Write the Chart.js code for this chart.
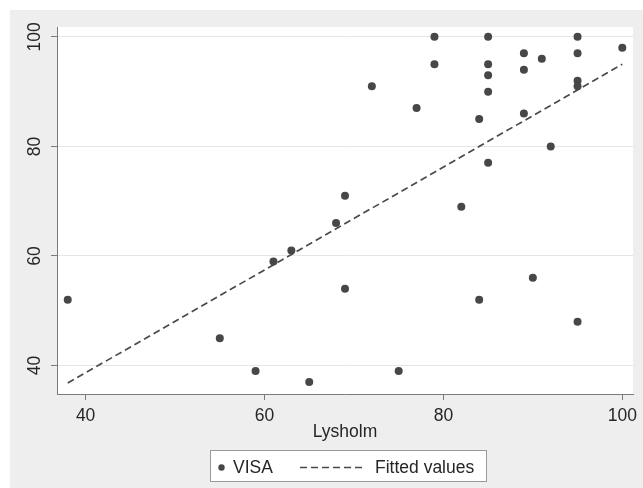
<!DOCTYPE html>
<html>
<head>
<meta charset="utf-8">
<script src="https://cdn.jsdelivr.net/npm/chart.js@4/dist/chart.umd.min.js"></script>
<style>
	html, body { margin: 0; padding: 0; background: #ffffff; }
	#wrap { position: relative; width: 643px; height: 488px; }
</style>
</head>
<body>
<div id="wrap"><canvas id="chart" width="643" height="488"></canvas></div>
<script>
// VISA vs Lysholm
var lysholm = [79, 85, 95, 100, 89, 95, 91, 79, 85, 89, 85, 95, 95, 72, 85, 77, 84, 89, 92, 85, 69, 82, 68,
	38, 61, 63, 55, 59, 65, 69, 84, 90, 95, 75];
var visa = [100, 100, 100, 98, 97, 97, 96, 95, 95, 94, 93, 92, 91, 91, 90, 87, 85, 86, 80, 77, 71, 69, 66,
	52, 59, 61, 45, 39, 37, 54, 52, 56, 48, 39];

// fitted line endpoints
var fitX = [38, 100];
var fitY = [36.8, 95.0];

var xTicks = [40, 60, 80, 100];
var yTicks = [40, 60, 80, 100];

var FONT = '"Liberation Sans", Arial, sans-serif';
var DOT = '#474747';
var INK = '#262626';

function pairs(xs, ys) {
	var out = [];
	for (var i = 0; i < xs.length; i++) {
		out.push({x: xs[i], y: ys[i]});
	}
	return out;
}

const backdrop = {
	id: 'backdrop',
	beforeDraw(chart) {
		const {ctx, chartArea: {left, top, width, height}} = chart;
		ctx.save();
		ctx.fillStyle = '#ffffff';
		ctx.fillRect(0, 0, chart.width, chart.height);
		ctx.fillStyle = '#eeeeee';
		ctx.fillRect(10, 10, chart.width - 10, chart.height - 10);
		ctx.fillStyle = '#ffffff';
		ctx.fillRect(left, top, width, height);
		ctx.restore();
	}
};

// vertical y tick labels, reading upward
const yLabels = {
	id: 'yLabels',
	afterDraw(chart) {
		const ctx = chart.ctx, scale = chart.scales.y;
		ctx.save();
		ctx.fillStyle = INK;
		ctx.font = '17.5px ' + FONT;
		ctx.textAlign = 'center';
		ctx.textBaseline = 'middle';
		yTicks.forEach(v => {
			ctx.save();
			ctx.translate(35, scale.getPixelForValue(v));
			ctx.rotate(-Math.PI / 2);
			ctx.fillText(String(v), 0, 0);
			ctx.restore();
		});
		ctx.restore();
	}
};

// boxed legend under the axis title
const boxLegend = {
	id: 'boxLegend',
	afterDraw(chart) {
		const ctx = chart.ctx, ds = chart.data.datasets;
		const cy = 467.5;
		ctx.save();
		ctx.fillStyle = '#ffffff';
		ctx.fillRect(210.5, 450.5, 276, 31);
		ctx.strokeStyle = '#9a9a9a';
		ctx.lineWidth = 1;
		ctx.strokeRect(210.5, 450.5, 276, 31);

		ctx.fillStyle = DOT;
		ctx.beginPath();
		ctx.arc(221.5, cy, 3.2, 0, Math.PI * 2);
		ctx.fill();

		ctx.strokeStyle = '#4a4a4a';
		ctx.lineWidth = 1.6;
		ctx.setLineDash([7, 4]);
		ctx.beginPath();
		ctx.moveTo(300, cy);
		ctx.lineTo(365, cy);
		ctx.stroke();
		ctx.setLineDash([]);

		ctx.fillStyle = INK;
		ctx.font = '17.5px ' + FONT;
		ctx.textAlign = 'left';
		ctx.textBaseline = 'middle';
		ctx.fillText(ds[0].label, 233, cy + 1);
		ctx.fillText(ds[1].label, 375, cy + 1);
		ctx.restore();
	}
};

var chart = new Chart(document.getElementById('chart'), {
	type: 'scatter',
	data: {
		datasets: [
			{
				label: 'VISA',
				data: pairs(lysholm, visa),
				pointRadius: 4,
				pointBackgroundColor: DOT,
				pointBorderWidth: 0,
				showLine: false,
			},
			{
				label: 'Fitted values',
				type: 'line',
				data: pairs(fitX, fitY),
				borderColor: '#4a4a4a',
				borderWidth: 1.7,
				borderDash: [7, 4],
				pointRadius: 0,
				fill: false,
			},
		]
	},
	options: {
		responsive: false,
		animation: false,
		layout: {
			padding: {left: 10, right: 6, top: 27, bottom: 45}
		},
		scales: {
			x: {
				type: 'linear',
				min: 36.8,
				max: 101.2,
				afterBuildTicks: scale => { scale.ticks = xTicks.map(v => ({value: v})); },
				afterFit: scale => { scale.height = 49; },
				border: {display: true, color: '#7a7a7a', width: 1},
				grid: {drawOnChartArea: false, drawTicks: true, tickLength: 6, tickColor: '#7a7a7a'},
				ticks: {
					color: INK,
					padding: 6,
					maxRotation: 0,
					font: {family: FONT, size: 17.5},
				},
				title: {
					display: true,
					text: 'Lysholm',
					color: INK,
					padding: 0,
					font: {family: FONT, size: 17.5},
				},
			},
			y: {
				min: 34.8,
				max: 101.8,
				afterBuildTicks: scale => { scale.ticks = yTicks.map(v => ({value: v})); },
				afterFit: scale => { scale.width = 47; },
				border: {display: true, color: '#7a7a7a', width: 1},
				grid: {color: '#e6e6e6', drawTicks: true, tickLength: 6, tickColor: '#7a7a7a'},
				ticks: {display: false},
			},
		},
		plugins: {
			legend: {display: false},
			tooltip: {enabled: false},
		},
	},
	plugins: [backdrop, yLabels, boxLegend],
});
</script>
</body>
</html>
